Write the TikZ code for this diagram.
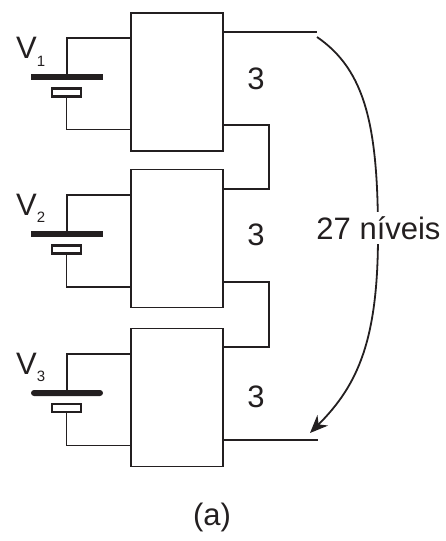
\documentclass[tikz,border=0pt]{standalone}
\usepackage{fontspec}
\setmainfont{Liberation Sans}
\usetikzlibrary{arrows.meta}
\definecolor{ink}{HTML}{231F20}
\tikzset{
    block/.style={draw=ink, fill=white, line width=1.8pt, minimum width=92pt, minimum height=138pt, anchor=north west, inner sep=0pt},
    plate/.style={fill=ink, minimum width=72pt, minimum height=6pt, inner sep=0pt},
    cell/.style={draw=ink, fill=white, line width=2.2pt, minimum width=29pt, minimum height=8pt, inner sep=0pt},
    wire/.style={draw=ink, line width=1.8pt},
    txt/.style={text=ink, font=\fontsize{31}{31}\selectfont, inner sep=0pt},
    sub/.style={text=ink, font=\fontsize{15}{15}\selectfont, inner sep=0pt}
}

\begin{document}
\begin{tikzpicture}[x=1pt, y=-1pt, >=Stealth]

    \useasboundingbox (0, 0) rectangle (446, 541);

    % --- 1. blocks ---
    \node [block] (block1) at (130, 12) {};
    \node [block] (block2) at (130, 168.5) {};
    \node [block] (block3) at (130, 327.5) {};

    % --- 2. batteries ---
    \node [plate] (plate1) at (67, 77) {};
    \node [cell] (cell1) at (66.5, 92.5) {};
    \node [plate] (plate2) at (67, 234) {};
    \node [cell] (cell2) at (66.5, 249.5) {};
    \node [plate, rounded corners=3pt] (plate3) at (67, 393) {};
    \node [cell] (cell3) at (66.5, 408) {};

    % battery terminals on the blocks
    \coordinate (plus1) at (130, 38);
    \coordinate (minus1) at (130, 129.5);
    \coordinate (plus2) at (130, 195);
    \coordinate (minus2) at (130, 287);
    \coordinate (plus3) at (130, 354);
    \coordinate (minus3) at (130, 445.5);

    \draw [wire] (plus1) -| (plate1.north);
    \draw [wire] (minus1) -| (cell1.south);
    \draw [wire] (plus2) -| (plate2.north);
    \draw [wire] (minus2) -| (cell2.south);
    \draw [wire] (plus3) -| (plate3.north);
    \draw [wire] (minus3) -| (cell3.south);

    % --- 3. links between blocks ---
    \coordinate (out1) at (222, 125);
    \coordinate (in2) at (222, 189);
    \coordinate (out2) at (222, 282);
    \coordinate (in3) at (222, 347);
    \coordinate (turn1) at (269, 125);
    \coordinate (turn2) at (269, 282);

    \draw [wire] (out1) -- (turn1) |- (in2);
    \draw [wire] (out2) -- (turn2) |- (in3);

    % top and bottom outputs
    \coordinate (top_a) at (222, 32);
    \coordinate (top_b) at (317, 32);
    \coordinate (bot_a) at (222, 440);
    \coordinate (bot_b) at (318, 440);
    \draw [wire] (top_a) -- (top_b);
    \draw [wire] (bot_a) -- (bot_b);

    % --- 4. curved arrow ---
    \coordinate (arc_start) at (317, 37);
    \coordinate (arc_mid) at (378, 235);
    \coordinate (arc_end) at (310, 433);
    \draw [draw=ink, line width=1.8pt, -{Stealth[length=18pt, width=15pt]}]
        (arc_start) .. controls (365, 70) and (378, 125) .. (arc_mid)
        .. controls (378, 340) and (358, 385) .. (arc_end);

    % --- 5. labels ---
    \node [txt, fill=white, inner ysep=4pt, inner xsep=2pt] (levels) at (378.5, 228) {27 níveis};
    \node [txt] (three1) at (256, 79) {3};
    \node [txt] (three2) at (256, 235) {3};
    \node [txt] (three3) at (256, 397) {3};

    \node [txt] (v1) at (26.5, 48) {V};
    \node [sub] (sub1) at (41, 61) {1};
    \node [txt] (v2) at (26.5, 205) {V};
    \node [sub] (sub2) at (41, 217.5) {2};
    \node [txt] (v3) at (26.5, 364) {V};
    \node [sub] (sub3) at (41, 376.5) {3};

    \node [txt] (caption) at (212, 517) {(a)};

\end{tikzpicture}
\end{document}
